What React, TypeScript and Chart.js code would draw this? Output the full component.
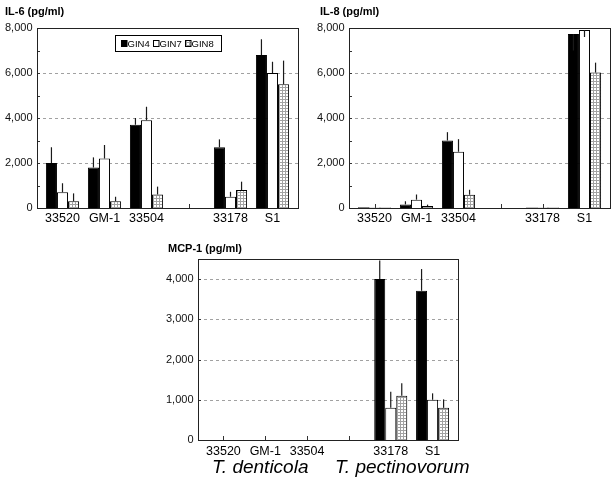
import React, { useEffect, useRef } from 'react';
import { Chart, registerables } from 'chart.js';

Chart.register(...registerables);

// ---------- data ----------
const categories = ['33520', 'GM-1', '33504', '', '33178', 'S1'];
const seriesNames = ['GIN4', 'GIN7', 'GIN8'];

// IL-6 (pg/ml)
const il6Gin4 = [2000, 1800, 3700, null, 2700, 6800];
const il6Gin4Err = [2700, 2250, 4000, null, 3050, 7500];
const il6Gin7 = [700, 2200, 3900, null, 500, 6000];
const il6Gin7Err = [1100, 2800, 4500, null, 720, 6500];
const il6Gin8 = [300, 300, 600, null, 800, 5500];
const il6Gin8Err = [650, 500, 950, null, 1170, 6550];

// IL-8 (pg/ml)
const il8Gin4 = [30, 160, 3000, null, 20, 7730];
const il8Gin4Err = [null, 300, 3370, null, null, 7000];
const il8Gin7 = [20, 370, 2500, null, 20, 7910];
const il8Gin7Err = [null, 600, 3060, null, null, 7600];
const il8Gin8 = [20, 90, 590, null, 20, 6020];
const il8Gin8Err = [null, 150, 810, null, null, 6460];

// MCP-1 (pg/ml)
const mcpGin4 = [0, 0, 0, null, 4000, 3710];
const mcpGin4Err = [null, null, null, null, 4460, 4250];
const mcpGin7 = [0, 0, 0, null, 800, 1000];
const mcpGin7Err = [null, null, null, null, 1200, 1160];
const mcpGin8 = [0, 0, 0, null, 1100, 800];
const mcpGin8Err = [null, null, null, null, 1410, 1010];

// y tick labels
const il6Ticks = [0, 2000, 4000, 6000, 8000];
const il8Ticks = [0, 2000, 4000, 6000, 8000];
const mcpTicks = [0, 1000, 2000, 3000, 4000];

const groupLabels = ['T. denticola', 'T. pectinovorum'];

const FONT = '"Liberation Sans", Arial, Helvetica, sans-serif';

type Num = number | null;
type PanelCfg = {
  title: string;
  values: Num[][];
  errors: Num[][];
  ticks: number[];
  max: number;
  left: number;
  top: number;
  width: number;
  height: number;
  yAxisWidth: number;
  padRight: number;
  padTop: number;
  xAxisHeight: number;
  padBottom: number;
  titleX: number;
  titleY: number;
  xPad: number;
  legend?: boolean;
  footer?: boolean;
};

const BOX_INSET = 4.5;

function makePattern(ctx: CanvasRenderingContext2D) {
  const c = document.createElement('canvas');
  c.width = 3;
  c.height = 3;
  const g = c.getContext('2d')!;
  g.fillStyle = '#ffffff';
  g.fillRect(0, 0, 3, 3);
  g.fillStyle = '#a2a2a2';
  g.fillRect(0, 0, 3, 1);
  g.fillRect(0, 0, 1, 3);
  return ctx.createPattern(c, 'repeat') as CanvasPattern;
}

function Panel({ cfg }: { cfg: PanelCfg }) {
  const ref = useRef<HTMLCanvasElement>(null);
  useEffect(() => {
    const canvas = ref.current!;
    const ctx = canvas.getContext('2d')!;
    const pattern = makePattern(ctx);
    const fills: (string | CanvasPattern)[] = ['#000000', '#ffffff', pattern];

    const framePlugin = {
      id: 'frame',
      beforeDatasetsDraw(chart: any) {
        const { ctx: c, chartArea: a, scales } = chart;
        const y = scales.y;
        const x = scales.x;
        const bl = a.left - BOX_INSET;
        const br = a.right + BOX_INSET;
        c.save();
        c.strokeStyle = '#8a8a8a';
        c.lineWidth = 0.8;
        c.setLineDash([3, 3]);
        cfg.ticks.forEach((v) => {
          if (v <= 0 || v >= cfg.max) return;
          const py = Math.round(y.getPixelForValue(v)) + 0.5;
          c.beginPath();
          c.moveTo(bl, py);
          c.lineTo(br, py);
          c.stroke();
        });
        c.setLineDash([]);
        c.strokeStyle = '#333';
        c.lineWidth = 1;
        // inward minor ticks on y
        for (let v = 1000; v < cfg.max; v += 1000) {
          const py = Math.round(y.getPixelForValue(v)) + 0.5;
          c.beginPath();
          c.moveTo(bl, py);
          c.lineTo(bl + 3, py);
          c.stroke();
        }
        // inward category ticks
        for (let i = 0; i < categories.length; i++) {
          const px = Math.round(x.getPixelForValue(i)) + 0.5;
          c.beginPath();
          c.moveTo(px, a.bottom);
          c.lineTo(px, a.bottom - 4);
          c.stroke();
        }
        c.restore();
      },
      afterDatasetsDraw(chart: any) {
        const { ctx: c, chartArea: a, scales } = chart;
        const y = scales.y;
        c.save();
        // error bars
        c.beginPath();
        c.rect(a.left - BOX_INSET, a.top, a.right - a.left + 2 * BOX_INSET, a.bottom - a.top);
        c.clip();
        c.strokeStyle = '#1a1a1a';
        c.lineWidth = 1.2;
        chart.data.datasets.forEach((ds: any, di: number) => {
          const meta = chart.getDatasetMeta(di);
          meta.data.forEach((el: any, j: number) => {
            const e = ds.errors[j];
            const v = ds.data[j];
            if (e == null || v == null) return;
            const px = el.x;
            c.beginPath();
            c.moveTo(px, y.getPixelForValue(v));
            c.lineTo(px, y.getPixelForValue(e));
            c.stroke();
          });
        });
        c.restore();

        c.save();
        // frame box
        c.strokeStyle = '#222';
        c.lineWidth = 1;
        const bl = Math.round(a.left - BOX_INSET) + 0.5;
        const br = Math.round(a.right + BOX_INSET) + 0.5;
        const bt = Math.round(a.top) + 0.5;
        const bb = Math.round(a.bottom) + 0.5;
        c.strokeRect(bl, bt, br - bl, bb - bt);

        // title
        c.fillStyle = '#000';
        c.font = `bold 11px ${FONT}`;
        c.textBaseline = 'middle';
        c.textAlign = 'left';
        c.fillText(cfg.title, cfg.titleX, cfg.titleY);

        if (cfg.legend) {
          c.strokeStyle = '#000';
          c.lineWidth = 1;
          c.strokeRect(115.5, 35.5, 106, 16);
          const sq = [121, 153, 185];
          const tx = [127.5, 159.5, 191.5];
          c.font = `9.5px ${FONT}`;
          c.textBaseline = 'middle';
          for (let k = 0; k < 3; k++) {
            c.fillStyle = fills[k];
            c.fillRect(sq[k], 40.5, 6, 6);
            c.strokeStyle = '#000';
            c.strokeRect(sq[k] + 0.5, 40.5, 5.5, 6);
            c.fillStyle = '#000';
            c.fillText(seriesNames[k], tx[k], 44);
          }
        }

        if (cfg.footer) {
          c.fillStyle = '#000';
          c.font = `italic 19px ${FONT}`;
          c.textBaseline = 'alphabetic';
          c.textAlign = 'left';
          c.fillText(groupLabels[0], 212 - cfg.left, 473 - cfg.top);
          c.fillText(groupLabels[1], 335 - cfg.left, 473 - cfg.top);
        }
        c.restore();
      },
    };

    const chart = new Chart(ctx, {
      type: 'bar',
      data: {
        labels: categories,
        datasets: seriesNames.map((name, k) => ({
          label: name,
          data: cfg.values[k] as any,
          errors: cfg.errors[k],
          backgroundColor: fills[k] as any,
          borderColor: '#000',
          borderWidth: 1,
          categoryPercentage: 0.79,
          barPercentage: 1,
        })) as any,
      },
      options: {
        animation: false,
        responsive: false,
        maintainAspectRatio: false,
        events: [],
        layout: {
          padding: { left: 0, right: cfg.padRight, top: cfg.padTop, bottom: cfg.padBottom },
        },
        plugins: {
          legend: { display: false },
          tooltip: { enabled: false },
          title: { display: false },
        },
        scales: {
          x: {
            type: 'category',
            offset: true,
            grid: { display: false, drawTicks: false },
            border: { display: false },
            ticks: {
              autoSkip: false,
              maxRotation: 0,
              padding: cfg.xPad,
              color: '#000',
              font: { family: FONT, size: 12.5 },
            },
            afterFit: (s: any) => {
              s.height = cfg.xAxisHeight;
            },
          },
          y: {
            min: 0,
            max: cfg.max,
            grid: { display: false, drawTicks: false },
            border: { display: false },
            afterBuildTicks: (s: any) => {
              s.ticks = cfg.ticks.map((v) => ({ value: v }));
            },
            ticks: {
              autoSkip: false,
              padding: 9,
              color: '#111',
              font: { family: FONT, size: 11 },
              callback: (v: any) => Number(v).toLocaleString('en-US'),
            },
            afterFit: (s: any) => {
              s.width = cfg.yAxisWidth;
            },
          },
        },
      } as any,
      plugins: [framePlugin],
    });
    return () => chart.destroy();
  }, [cfg]);

  return (
    <canvas
      ref={ref}
      width={cfg.width}
      height={cfg.height}
      style={{
        position: 'absolute',
        left: cfg.left,
        top: cfg.top,
        width: cfg.width,
        height: cfg.height,
      }}
    />
  );
}

const il6Cfg: PanelCfg = {
  title: 'IL-6 (pg/ml)',
  values: [il6Gin4, il6Gin7, il6Gin8],
  errors: [il6Gin4Err, il6Gin7Err, il6Gin8Err],
  ticks: il6Ticks,
  max: 8000,
  left: 0,
  top: 0,
  width: 305,
  height: 230,
  yAxisWidth: 41.5,
  padRight: 11.5,
  padTop: 28,
  xAxisHeight: 22,
  padBottom: 0,
  titleX: 5,
  titleY: 12,
  xPad: 3,
  legend: true,
};

const il8Cfg: PanelCfg = {
  title: 'IL-8 (pg/ml)',
  values: [il8Gin4, il8Gin7, il8Gin8],
  errors: [il8Gin4Err, il8Gin7Err, il8Gin8Err],
  ticks: il8Ticks,
  max: 8000,
  left: 305,
  top: 0,
  width: 309,
  height: 230,
  yAxisWidth: 48.5,
  padRight: 8.5,
  padTop: 28,
  xAxisHeight: 22,
  padBottom: 0,
  titleX: 15,
  titleY: 12,
  xPad: 3,
};

const mcpCfg: PanelCfg = {
  title: 'MCP-1 (pg/ml)',
  values: [mcpGin4, mcpGin7, mcpGin8],
  errors: [mcpGin4Err, mcpGin7Err, mcpGin8Err],
  ticks: mcpTicks,
  max: 4500,
  left: 130,
  top: 232,
  width: 360,
  height: 250,
  yAxisWidth: 72.5,
  padRight: 36.5,
  padTop: 27,
  xAxisHeight: 20,
  padBottom: 22,
  titleX: 38,
  titleY: 17,
  xPad: 4,
  footer: true,
};

export default function App() {
  return (
    <div
      style={{
        position: 'absolute',
        left: 0,
        top: 0,
        width: 614,
        height: 482,
        background: '#ffffff',
        overflow: 'hidden',
      }}
    >
      <Panel cfg={il6Cfg} />
      <Panel cfg={il8Cfg} />
      <Panel cfg={mcpCfg} />
    </div>
  );
}
